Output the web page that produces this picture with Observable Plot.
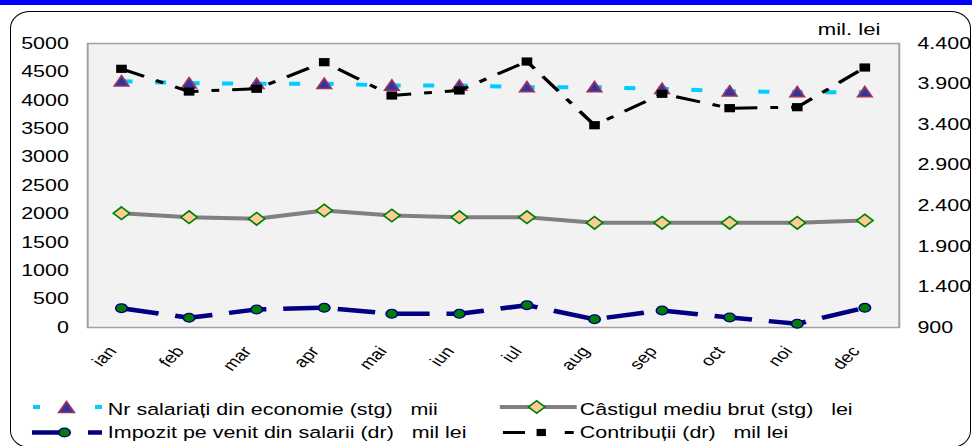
<!DOCTYPE html>
<html><head><meta charset="utf-8">
<script src="https://cdn.jsdelivr.net/npm/d3@7"></script>
<script src="https://cdn.jsdelivr.net/npm/@observablehq/plot@0.6"></script>
<style>
html,body{margin:0;padding:0;background:#fff;}
#wrap{position:relative;width:972px;height:446px;overflow:hidden;background:#fff;font-family:"Liberation Sans",Arial,sans-serif;}
#topbar{position:absolute;left:0;top:0;width:972px;height:5px;background:#0000ff;}
#box{position:absolute;left:10px;top:11px;width:961px;height:437px;border:1.5px solid #000;border-radius:20px/17px;box-sizing:border-box;}
#stage{position:absolute;left:0;top:0;width:748px;height:446px;transform:scaleX(1.2995);transform-origin:0 0;}
#chart{position:absolute;left:0;top:0;}
#legend{position:absolute;left:0;top:380px;overflow:visible;}
</style></head><body>
<div id="wrap"><div id="topbar"></div><div id="box"></div><div id="stage"><div id="chart"></div><svg id="legend" width="748" height="66"></svg></div></div>
<script>
const months = ["ian","feb","mar","apr","mai","iun","iul","aug","sep","oct","noi","dec"];
const nrSalariati = [4336,4301,4290,4290,4261,4261,4231,4231,4203,4160,4143,4143];
const castigMediu = [2012,1942,1913,2060,1972,1942,1942,1843,1843,1843,1843,1884];
const impozit = [1138,1020,1122,1143,1069,1069,1175,1002,1110,1023,946,1143];
const contributii = [4088,3808,3842,4170,3759,3821,4178,3393,3780,3603,3615,4104];
const leftTicks = [0,500,1000,1500,2000,2500,3000,3500,4000,4500,5000];
const rightTicks = [900,1400,1900,2400,2900,3400,3900,4400];
const rightTickLabels = ["900","1.400","1.900","2.400","2.900","3.400","3.900","4.400"];
const seriesNames = ["Nr salariați din economie (stg)   mii","Câstigul mediu brut (stg)   lei","Impozit pe venit din salarii (dr)   mil lei","Contribuții (dr)   mil lei"];
const rightUnit = "mil. lei";

// map right-axis (900..4400) onto left-axis (0..5000)
const toL = v => (v - 900) / 3500 * 5000;
const rightPos = rightTicks.map(toL);

const rows = months.map((m,i)=>({month:m, nr:nrSalariati[i], cast:castigMediu[i], imp:toL(impozit[i]), con:toL(contributii[i])}));

const triSym = {draw(ctx,size){const r=Math.sqrt(size/Math.PI);ctx.moveTo(0,-r);ctx.lineTo(r,0.85*r);ctx.lineTo(-r,0.85*r);ctx.closePath();}};
const diaSym = {draw(ctx,size){const r=Math.sqrt(size/Math.PI);ctx.moveTo(0,-r);ctx.lineTo(r,0);ctx.lineTo(0,r);ctx.lineTo(-r,0);ctx.closePath();}};
const sqSym = {draw(ctx,size){const r=Math.sqrt(size/Math.PI);ctx.rect(-r,-r,2*r,2*r);}};

const font = '"Liberation Sans", Arial, sans-serif';
const chart = Plot.plot({
  width: 748, height: 380,
  marginLeft: 67, marginRight: 56.5, marginTop: 43, marginBottom: 53,
  style: {fontFamily: font, fontSize: "16.5px", background: "transparent", overflow: "visible", color: "#000"},
  x: {type: "point", domain: months, padding: 0.5, axis: null},
  y: {domain: [0, 5000], axis: null},
  marks: [
    Plot.frame({fill: "#f2f2f2", stroke: "#a0a0a0", strokeWidth: 1.5}),
    Plot.axisY({ticks: leftTicks, tickSize: 0, tickPadding: 14.5, label: null, tickFormat: d => String(d)}),
    Plot.axisY({anchor: "right", ticks: rightPos, tickSize: 0, tickPadding: 14, label: null,
      tickFormat: d => rightTickLabels[rightPos.findIndex(v => Math.abs(v - d) < 1e-6)]}),
    Plot.axisX({tickSize: 0, tickRotate: -52, tickPadding: 21, textAnchor: "end", lineAnchor: "middle", dx: -7, fontSize: 15, label: null}),
    Plot.text([rightUnit], {frameAnchor: "top-right", textAnchor: "end", lineAnchor: "middle", dx: -14.5, dy: -14, fontSize: 17}),
    Plot.line(rows, {x: "month", y: "nr", stroke: "#00ccff", strokeWidth: 4, strokeDasharray: "8.5,17.3", strokeLinecap: "butt"}),
    Plot.dot(rows, {x: "month", y: "nr", symbol: triSym, r: 5.5, fill: "#333399", stroke: "#993366", strokeWidth: 1.5}),
    Plot.line(rows, {x: "month", y: "cast", stroke: "#808080", strokeWidth: 4, strokeLinecap: "butt"}),
    Plot.dot(rows, {x: "month", y: "cast", symbol: diaSym, r: 6.3, fill: "#ffcc99", stroke: "#008000", strokeWidth: 1.5}),
    Plot.line(rows, {x: "month", y: "imp", stroke: "#000080", strokeWidth: 4.5, strokeDasharray: "29,13", strokeLinecap: "butt"}),
    Plot.dot(rows, {x: "month", y: "imp", symbol: "circle", r: 4.4, fill: "#008000", stroke: "#000080", strokeWidth: 1.3}),
    Plot.line(rows, {x: "month", y: "con", stroke: "#000", strokeWidth: 3, strokeDasharray: "19,10,6,10", strokeLinecap: "butt"}),
    Plot.dot(rows, {x: "month", y: "con", symbol: sqSym, r: 4.1, fill: "#000"})
  ]
});
document.getElementById("chart").appendChild(chart);

// legend
const lg = d3.select("#legend").style("font-family", font).style("font-size", "16.5px");
const y1 = 27, y2 = 52.5;
function seg(x1,x2,y,color,w){lg.append("line").attr("x1",x1).attr("x2",x2).attr("y1",y).attr("y2",y).attr("stroke",color).attr("stroke-width",w);}
function sym(type,r,x,y,fill,stroke,sw){lg.append("path").attr("d",d3.symbol(type, Math.PI*r*r)()).attr("transform",`translate(${x},${y})`).attr("fill",fill).attr("stroke",stroke||"none").attr("stroke-width",sw||0);}
function label(t,x,y){lg.append("text").attr("x",x).attr("y",y).attr("fill","#000").style("white-space","pre").text(t);}
// item 1
seg(25.4,30.8,y1,"#00ccff",4); seg(73.1,78.5,y1,"#00ccff",4);
sym(triSym,6,51.2,y1+0.5,"#333399","#993366",1.5);
label(seriesNames[0],83,y1+7.9);
// item 2
seg(384.6,443.8,y1,"#808080",4);
sym(diaSym,6.3,413,y1,"#ffcc99","#008000",1.5);
label(seriesNames[1],446.2,y1+7.9);
// item 3
seg(24.6,46,y2,"#000080",4.5); seg(67.7,78.5,y2,"#000080",4.5);
sym(d3.symbolCircle,4.4,49.6,y2,"#008000","#000080",1.3);
label(seriesNames[2],83,y2+5.9);
// item 4
seg(387,404,y2,"#000",3); seg(434.6,441.5,y2,"#000",3);
sym(sqSym,3.6,416.5,y2,"#000");
label(seriesNames[3],446.2,y2+5.9);
</script></body></html>
